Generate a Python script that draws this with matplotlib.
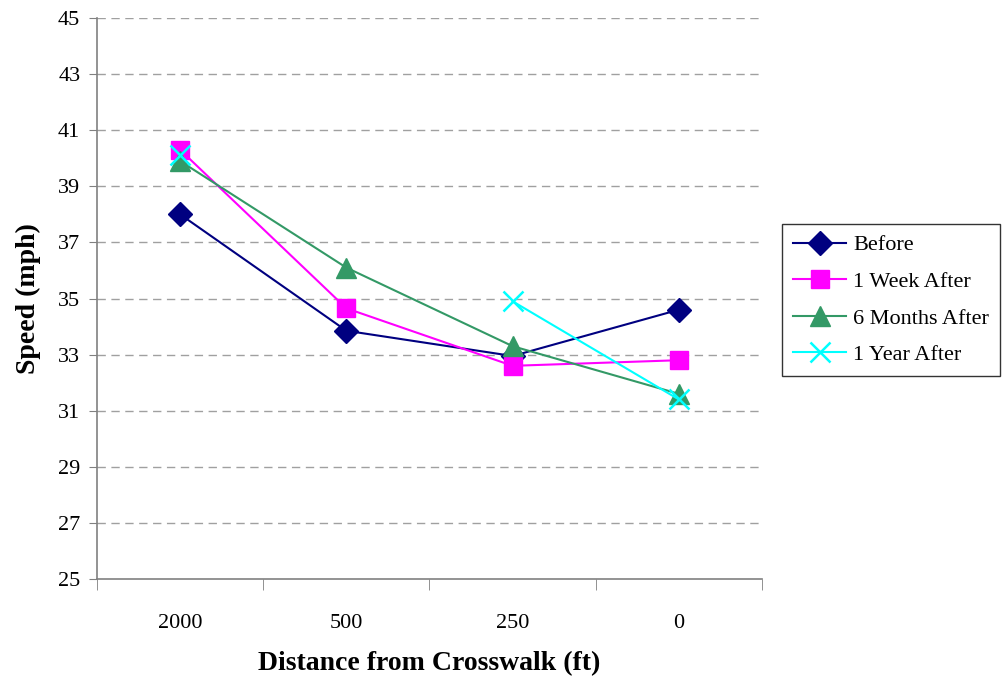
import numpy as np
import matplotlib
matplotlib.use("Agg")
import matplotlib.pyplot as plt

plt.rcParams['font.family'] = ['Liberation Serif', 'DejaVu Serif']

distances = ["2000", "500", "250", "0"]
before = [38.0, 33.85, 32.95, 34.6]
week_after = [40.3, 34.65, 32.6, 32.8]
six_months_after = [39.9, 36.1, 33.3, 31.6]
year_after = [40.1, np.nan, 34.9, 31.4]

y_ticks = list(range(25, 46, 2))

fig = plt.figure(figsize=(10.06, 6.83), dpi=100)
ax = fig.add_axes([97 / 1006, 1 - 579 / 683, 665 / 1006, 561 / 683])

x = np.arange(len(distances))
ax.plot(x, before, color="#000080", marker="D", markersize=12, lw=1.5, label="Before")
ax.plot(x, week_after, color="#ff00ff", marker="s", markersize=13, lw=1.5, label="1 Week After")
ax.plot(x, six_months_after, color="#339966", marker="^", markersize=14, lw=1.5, label="6 Months After")
ax.plot(x, year_after, color="#00ffff", marker="x", markersize=14, mew=1.8, lw=1.5, label="1 Year After")

ax.set_xlim(-0.5, len(distances) - 0.5)
ax.set_ylim(25, 45)
ax.set_yticks(y_ticks)
ax.set_yticklabels([str(v) for v in y_ticks], fontsize=16)

# category labels centred, tick marks between categories
ax.set_xticks(x)
ax.set_xticklabels(distances, fontsize=16)
ax.tick_params(axis="x", which="major", length=0, pad=25)
ax.set_xticks(np.arange(-0.5, len(distances)), minor=True)
ax.tick_params(axis="x", which="minor", length=8, direction="out", color="#808080")
ax.tick_params(axis="y", length=6, direction="out", color="#808080", pad=6)

for v in y_ticks[1:]:
    ax.axhline(v, color="#a0a0a0", lw=1, ls=(0, (6, 4)), zorder=0)

for side in ("top", "right"):
    ax.spines[side].set_visible(False)
for side in ("left", "bottom"):
    ax.spines[side].set_color("#808080")
    ax.spines[side].set_linewidth(1.2)

ax.set_ylabel("Speed (mph)", fontsize=20, fontweight="bold", labelpad=12)
ax.set_xlabel("Distance from Crosswalk (ft)", fontsize=20, fontweight="bold", labelpad=13)

leg = ax.legend(loc="center left", bbox_to_anchor=(782 / 1006, 1 - 300 / 683),
                bbox_transform=fig.transFigure, fontsize=16, frameon=True,
                fancybox=False, edgecolor="black", handlelength=2.4,
                borderpad=0.5, labelspacing=0.72, handletextpad=0.3, borderaxespad=0)
leg.get_frame().set_linewidth(1.0)

fig.savefig("out.png", dpi=100)
